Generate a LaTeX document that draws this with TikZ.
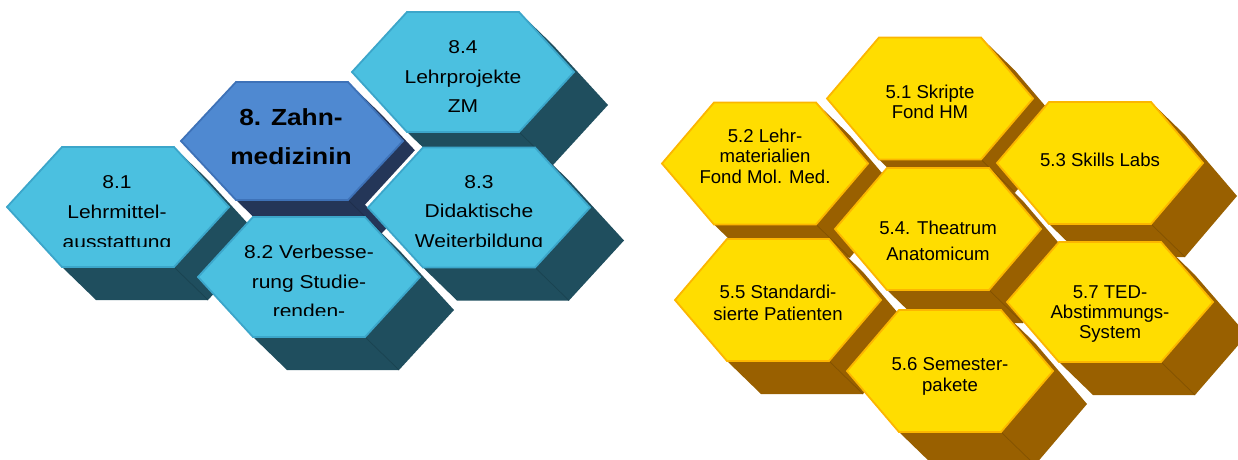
\documentclass[tikz,border=0pt]{standalone}
\usepackage{fontspec}
\setmainfont{Liberation Sans}
\newfontfamily\wideft[FakeStretch=1.13]{Liberation Sans}
\definecolor{bface}{RGB}{75,192,224}
\definecolor{bedge}{RGB}{60,166,202}
\definecolor{bshad}{RGB}{31,78,94}
\definecolor{zface}{RGB}{79,137,209}
\definecolor{zedge}{RGB}{62,114,184}
\definecolor{zshad}{RGB}{36,54,88}
\definecolor{yface}{RGB}{255,221,0}
\definecolor{yedge}{RGB}{252,182,0}
\definecolor{yshad}{RGB}{153,96,0}
% #1 cx, #2 cy, #3 half width, #4 half top edge, #5 half height, #6 face, #7 edge, #8 shadow
\newcommand\HexUnit[8]{%
  \fill[#8] ({#1-#3},{#2}) -- ({#1-#4},{#2-#5}) -- ({#1+#4},{#2-#5})
     -- ({#1+#4+34},{#2-#5+33}) -- ({#1+#3+34},{#2+33}) -- ({#1+#4+34},{#2+#5+33})
     -- ({#1-#4+34},{#2+#5+33}) -- ({#1-#4},{#2+#5}) -- cycle;
  \draw[#8!85!black, line width=0.7pt] ({#1+#4},{#2+#5}) -- ({#1+#4+34},{#2+#5+33});
  \filldraw[fill=#6, draw=#7, line width=1.8pt, line join=miter]
     ({#1-#3},{#2}) -- ({#1-#4},{#2-#5}) -- ({#1+#4},{#2-#5})
     -- ({#1+#3},{#2}) -- ({#1+#4},{#2+#5}) -- ({#1-#4},{#2+#5}) -- cycle;
}
\tikzset{
  lt/.style={font=\wideft\fontsize{18.6}{22}\selectfont, inner sep=0pt, anchor=base},
  zt/.style={font=\wideft\bfseries\fontsize{23.3}{28}\selectfont, inner sep=0pt, anchor=base},
  rt/.style={font=\fontsize{18.6}{22}\selectfont, inner sep=0pt, anchor=base},
  halo/.style={white, line width=8pt}
}
\begin{document}
\begin{tikzpicture}[x=1pt, y=-1pt]
\useasboundingbox (0,0) rectangle (1238,459);
\clip (0,0) rectangle (1238,459);
% ---------- left cluster ----------
\HexUnit{463}{72}{111}{56}{60}{bface}{bedge}{bshad}
\HexUnit{292}{141}{111}{56}{59}{zface}{zedge}{zshad}
\HexUnit{118}{207}{111}{56}{60}{bface}{bedge}{bshad}
\draw[halo] (368,207.5) -- (423,147.5);
\HexUnit{479}{207.5}{111}{56}{60}{bface}{bedge}{bshad}
\HexUnit{309}{277}{111}{56}{60}{bface}{bedge}{bshad}
% texts left
\node[lt] (t84a) at (463,53) {8.4};
\node[lt] (t84b) at (463,83) {Lehrprojekte};
\node[lt] (t84c) at (463,112) {ZM};
\node[zt] (t8a) at (291,125) {8. Zahn-};
\node[zt] (t8b) at (291,164) {medizinin};
\node[lt] (t81a) at (117,188) {8.1};
\node[lt] (t81b) at (117,218) {Lehrmittel-};
\begin{scope}
  \clip (20,225) rectangle (220,246);
  \node[lt] (t81c) at (117,248) {ausstattung};
\end{scope}
\node[lt] (t83a) at (479,188) {8.3};
\node[lt] (t83b) at (479,217) {Didaktische};
\begin{scope}
  \clip (380,225) rectangle (580,246.5);
  \node[lt] (t83c) at (479,247) {Weiterbildung};
\end{scope}
\node[lt] (t82a) at (309,258) {8.2 Verbesse-};
\node[lt] (t82b) at (309,288) {rung Studie-};
\begin{scope}
  \clip (210,295) rectangle (410,315);
  \node[lt] (t82c) at (309,317) {renden-};
\end{scope}
% ---------- right cluster ----------
\HexUnit{930}{98.5}{103}{51}{61}{yface}{yedge}{yshad}
\HexUnit{765}{163.5}{103}{51}{61}{yface}{yedge}{yshad}
\HexUnit{1100}{163}{103}{51}{61}{yface}{yedge}{yshad}
\HexUnit{938}{229}{103}{51}{61}{yface}{yedge}{yshad}
\HexUnit{778}{300}{103}{51}{61}{yface}{yedge}{yshad}
\HexUnit{1110}{302}{103}{51}{60}{yface}{yedge}{yshad}
\HexUnit{950}{371}{103}{51}{61}{yface}{yedge}{yshad}
% texts right
\node[rt] (t51a) at (930,98) {5.1 Skripte};
\node[rt] (t51b) at (930,118) {Fond HM};
\node[rt] (t52a) at (765,142) {5.2 Lehr-};
\node[rt] (t52b) at (765,162) {materialien};
\node[rt] (t52c) at (765,183) {Fond Mol. Med.};
\node[rt] (t53a) at (1100,166) {5.3 Skills Labs};
\node[rt] (t54a) at (938,234) {5.4. Theatrum};
\node[rt] (t54b) at (938,260) {Anatomicum};
\node[rt] (t55a) at (778,298) {5.5 Standardi-};
\node[rt] (t55b) at (778,320) {sierte Patienten};
\node[rt] (t56a) at (950,370) {5.6 Semester-};
\node[rt] (t56b) at (950,391) {pakete};
\node[rt] (t57a) at (1110,298) {5.7 TED-};
\node[rt] (t57b) at (1110,318) {Abstimmungs-};
\node[rt] (t57c) at (1110,338) {System};
\end{tikzpicture}
\end{document}
